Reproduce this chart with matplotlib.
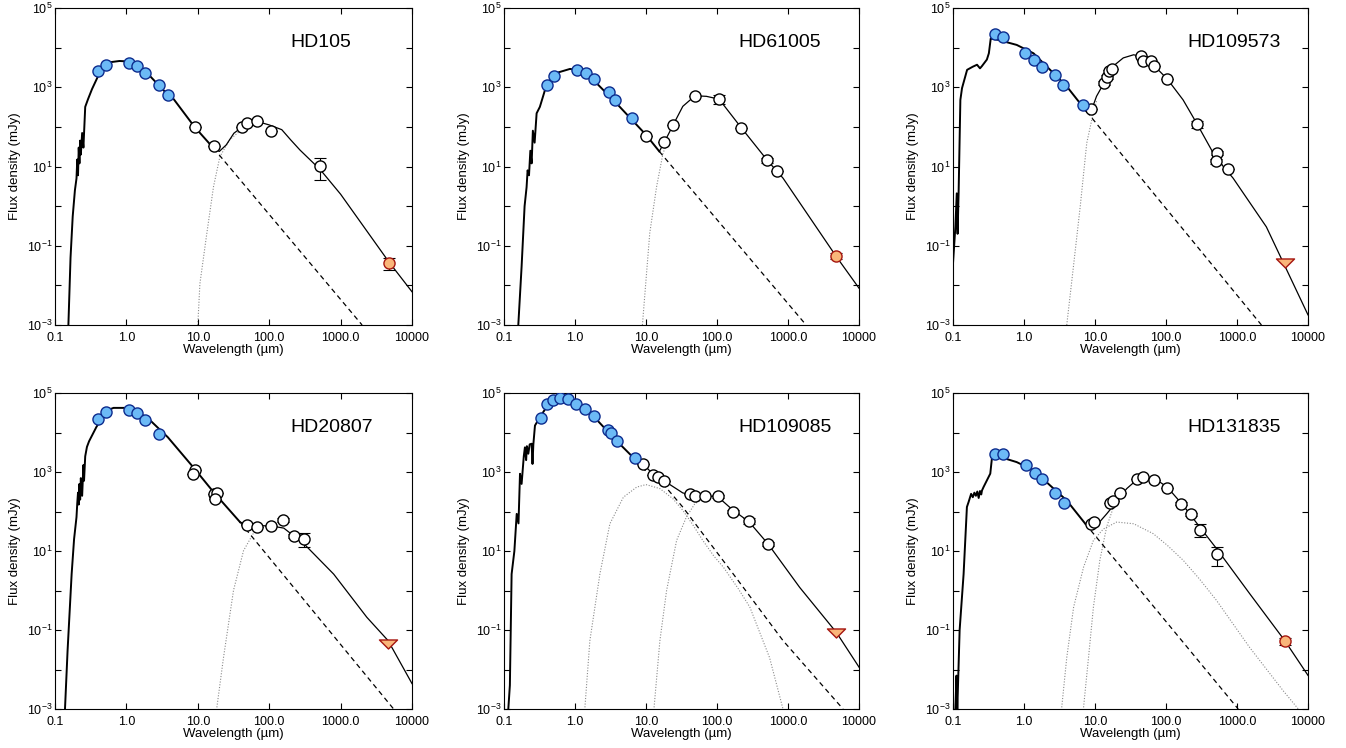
import math

import matplotlib
matplotlib.use("Agg")
import matplotlib.pyplot as plt
from matplotlib.path import Path
from matplotlib.ticker import FixedLocator, FuncFormatter, NullLocator

plt.rcParams["font.family"] = ["Liberation Sans", "DejaVu Sans"]
plt.rcParams["mathtext.default"] = "regular"

# ---------------- HD105 ----------------
hd105_star_wl = [0.154, 0.165, 0.177, 0.19, 0.20, 0.205, 0.21, 0.215, 0.22, 0.225, 0.23,
                 0.24, 0.25, 0.265, 0.29, 0.33, 0.38, 0.45, 0.6, 0.8, 1.0, 1.4, 1.9, 2.8,
                 3.8, 4.6, 9.0, 16.6, 2000]
hd105_star_flux = [1e-3, 0.05, 0.55, 2.5, 5, 15, 6, 30, 12, 45, 20, 70, 30, 320, 500, 900,
                   1550, 3000, 4300, 4600, 4500, 3500, 2400, 1150, 650, 500, 100, 29, 1e-3]
hd105_total_wl = [16.6, 20, 25, 32, 42, 55, 75, 100, 150, 200, 270, 520, 1000, 4700, 10000]
hd105_total_flux = [29, 24, 35, 69, 100, 125, 130, 112, 85, 47, 26, 8.3, 2.0, 0.04, 0.0069]
hd105_dust_wl = [10, 10.7, 13.4, 16.6, 20.4, 27.9, 38]
hd105_dust_flux = [1e-3, 0.011, 0.21, 3.1, 17.8, 47, 76]
hd105_phot_wl = [0.40, 0.51, 1.08, 1.43, 1.85, 2.84, 3.84]
hd105_phot_flux = [2500, 3700, 4100, 3400, 2300, 1120, 650]
hd105_ir_wl = [9.0, 16.6, 42, 48.6, 68, 107, 519]
hd105_ir_flux = [102, 33, 102, 124, 144, 80, 10.4]
hd105_ir_err = [0, 0, 0, 0, 0, 0, 5.8]
hd105_mm_wl = [4710]
hd105_mm_flux = [0.0376]
hd105_mm_err = [0.0125]

# ---------------- HD61005 ----------------
hd61005_star_wl = [0.159, 0.177, 0.195, 0.208, 0.215, 0.225, 0.235, 0.245, 0.255, 0.27,
                   0.288, 0.32, 0.355, 0.40, 0.55, 0.85, 1.05, 1.8, 3.8, 10, 15.4, 1720]
hd61005_star_flux = [1e-3, 0.03, 1, 3, 8, 6, 25, 12, 80, 40, 220, 320, 590, 1200, 2300,
                     2900, 2750, 1550, 400, 63, 24, 1.1e-3]
hd61005_total_wl = [15.4, 18, 24, 33, 49, 71, 107, 221, 513, 850, 4700, 10000]
hd61005_total_flux = [24, 40, 110, 330, 610, 590, 500, 94, 14.2, 5.1, 0.056, 0.0085]
hd61005_dust_wl = [8.9, 11.3, 14.1, 17.4, 20]
hd61005_dust_flux = [1e-3, 0.21, 3.1, 22, 40]
hd61005_phot_wl = [0.40, 0.51, 1.05, 1.41, 1.83, 2.97, 3.65, 6.27]
hd61005_phot_flux = [1150, 1950, 2700, 2300, 1660, 740, 470, 166]
hd61005_ir_wl = [10.1, 17.8, 23.9, 48.8, 107, 221, 513, 708]
hd61005_ir_flux = [60, 40.6, 110, 610, 505, 94, 14.2, 7.9]
hd61005_ir_err = [0, 0, 0, 0, 120, 0, 2, 0]
hd61005_mm_wl = [4700]
hd61005_mm_flux = [0.056]
hd61005_mm_err = [0.01]

# ---------------- HD109573 ----------------
hd109573_star_wl = [0.1, 0.108, 0.113, 0.116, 0.12, 0.127, 0.134, 0.158, 0.19, 0.218, 0.24,
                    0.255, 0.30, 0.32, 0.34, 0.415, 0.79, 1.36, 4.0, 7.6, 2210]
hd109573_star_flux = [0.036, 0.3, 2.1, 0.2, 2.2, 480, 950, 2750, 3300, 3700, 3000, 3400,
                      5000, 7200, 17000, 16000, 11700, 7200, 1050, 245, 1e-3]
hd109573_total_wl = [7.6, 9.0, 10.5, 13.4, 18, 25, 35, 44.5, 66, 104, 174, 275, 500, 880,
                     2590, 10000]
hd109573_total_flux = [245, 275, 590, 1290, 3400, 5500, 6600, 6000, 3700, 1620, 480, 117,
                       17, 5.1, 0.3, 0.0018]
hd109573_dust_wl = [4.0, 4.97, 6.2, 7.65, 9.0, 10.6]
hd109573_dust_flux = [1e-3, 0.03, 1.0, 39, 150, 480]
hd109573_phot_wl = [0.39, 0.50, 1.04, 1.39, 1.82, 2.69, 3.6, 6.7]
hd109573_phot_flux = [22000, 19000, 7200, 4900, 3160, 2080, 1120, 365]
hd109573_ir_wl = [8.7, 13.4, 14.9, 15.9, 17.4, 44.5, 47.9, 60.7, 67.4, 104, 275, 515, 500, 750]
hd109573_ir_flux = [290, 1290, 1820, 2500, 2940, 6000, 4700, 4700, 3400, 1620, 117, 22,
                    13.5, 8.5]
hd109573_ir_err = [0, 150, 200, 250, 0, 0, 0, 0, 0, 0, 25, 3, 2, 0]
hd109573_mm_wl = [4700]
hd109573_mm_flux = [0.036]
hd109573_mm_err = [0]

# ---------------- HD20807 ----------------
hd20807_star_wl = [0.138, 0.15, 0.171, 0.185, 0.20, 0.205, 0.21, 0.215, 0.22, 0.225, 0.23,
                   0.24, 0.25, 0.255, 0.265, 0.28, 0.30, 0.38, 0.53, 0.66, 1.0, 1.93, 3.8,
                   8.7, 16.6, 39, 5530]
hd20807_star_flux = [1e-3, 0.03, 2.6, 20, 72, 160, 300, 150, 500, 200, 700, 250, 1500, 600,
                     2500, 4300, 6000, 13800, 36000, 42000, 42000, 24500, 7600, 1300, 310,
                     54, 1e-3]
hd20807_total_wl = [39, 48, 68, 107, 160, 309, 800, 2330, 4620, 10000]
hd20807_total_flux = [54, 48, 44, 43, 38, 15, 2.6, 0.21, 0.054, 0.0044]
hd20807_dust_wl = [18.5, 22.9, 31.6, 43.7, 60, 80]
hd20807_dust_flux = [1.1e-3, 0.02, 1.0, 10.2, 28, 34]
hd20807_phot_wl = [0.40, 0.51, 1.08, 1.43, 1.85, 2.9]
hd20807_phot_flux = [21500, 33000, 38000, 31000, 21000, 9400]
hd20807_ir_wl = [9.2, 8.7, 16.6, 18.5, 17.5, 48.6, 68.5, 107, 158, 219, 309]
hd20807_ir_flux = [1150, 910, 280, 296, 210, 45, 40, 42.5, 62, 24.5, 20.4]
hd20807_ir_err = [0, 0, 0, 0, 0, 0, 0, 0, 8, 3, 7.5]
hd20807_mm_wl = [4620]
hd20807_mm_flux = [0.043]
hd20807_mm_err = [0]

# ---------------- HD109085 ----------------
hd109085_star_wl = [0.115, 0.121, 0.128, 0.14, 0.151, 0.16, 0.168, 0.177, 0.19, 0.197,
                    0.205, 0.21, 0.22, 0.23, 0.245, 0.252, 0.259, 0.273, 0.321, 0.4, 0.61,
                    0.85, 1.6, 3.8, 7.3, 10.2, 17.4, 33, 63, 170, 850, 5960]
hd109085_star_flux = [1e-3, 0.004, 2.6, 10, 87, 50, 900, 500, 2500, 4200, 2000, 4500, 2900,
                      5000, 5200, 1600, 5000, 15000, 24500, 45000, 65000, 65000, 33000, 6300,
                      1950, 1000, 500, 129, 27.5, 2.6, 0.054, 1e-3]
hd109085_total_wl = [7.3, 9.0, 12.5, 17.8, 21.7, 33, 41, 48.7, 67, 103, 166, 282, 525, 1460,
                     4800, 10000]
hd109085_total_flux = [1950, 1600, 900, 600, 480, 295, 270, 255, 250, 235, 110, 55, 15, 1.2,
                       0.087, 0.0115]
hd109085_warm_wl = [1.38, 1.62, 2.24, 3.1, 4.8, 7.4, 10, 15.7, 24, 33, 45, 63, 90, 123, 200,
                    290, 550, 850]
hd109085_warm_flux = [1.1e-3, 0.054, 2.6, 49, 230, 415, 480, 380, 210, 107, 48, 18.6, 7.5,
                      3.9, 1.1, 0.38, 0.02, 1e-3]
hd109085_cold_wl = [13, 15.7, 19.5, 27, 37, 49, 63]
hd109085_cold_flux = [1.1e-3, 0.054, 1.0, 18.6, 72, 160, 200]
hd109085_phot_wl = [0.33, 0.40, 0.49, 0.61, 0.79, 1.03, 1.39, 1.83, 2.94, 3.17, 3.85, 6.97]
hd109085_phot_flux = [23700, 54000, 68000, 76000, 70000, 54000, 39000, 25700, 11800, 9700,
                      6000, 2300]
hd109085_ir_wl = [9.0, 12.5, 14.7, 17.8, 41.4, 48.7, 67, 103, 166, 282, 525]
hd109085_ir_flux = [1620, 850, 760, 575, 270, 240, 250, 240, 100, 58, 15.2]
hd109085_ir_err = [0, 0, 0, 0, 0, 0, 0, 20, 10, 10, 2]
hd109085_mm_wl = [4800]
hd109085_mm_flux = [0.085]
hd109085_mm_err = [0]

# ---------------- HD131835 ----------------
hd131835_star_wl = [0.108, 0.112, 0.115, 0.124, 0.141, 0.157, 0.166, 0.18, 0.19, 0.2, 0.21,
                    0.22, 0.23, 0.24, 0.25, 0.256, 0.27, 0.335, 0.353, 0.46, 0.79, 1.36, 4.0,
                    7.3, 1040]
hd131835_star_flux = [1e-3, 0.007, 1e-3, 0.1, 2.6, 130, 175, 280, 230, 300, 250, 320, 220,
                      330, 270, 340, 420, 910, 2200, 2400, 1780, 1100, 190, 49, 1e-3]
hd131835_total_wl = [7.3, 8.8, 10, 14.6, 18.2, 28, 38.6, 53, 74, 104, 175, 300, 515, 1510,
                     4700, 10000]
hd131835_total_flux = [49, 42, 40, 87, 141, 380, 630, 740, 630, 415, 142, 40, 11.5, 0.83,
                       0.054, 0.0071]
hd131835_warm_wl = [3.4, 4.0, 5.0, 6.9, 9.5, 13.1, 20.2, 35, 66, 104, 175, 300, 515, 1510,
                    4470, 7300]
hd131835_warm_flux = [1.1e-3, 0.02, 0.38, 3.9, 18.6, 36, 54, 49, 27.5, 14, 5.8, 1.9, 0.56,
                      0.036, 0.0029, 1e-3]
hd131835_cold_wl = [6.9, 8.1, 9.5, 11.7, 14.6, 18.2, 22.4]
hd131835_cold_flux = [1.1e-3, 0.02, 0.38, 5.8, 41, 129, 200]
hd131835_phot_wl = [0.39, 0.50, 1.05, 1.41, 1.82, 2.72, 3.63]
hd131835_phot_flux = [2800, 2800, 1490, 960, 650, 300, 166]
hd131835_ir_wl = [8.8, 9.7, 16.3, 18.2, 22.5, 39.6, 48, 67.6, 104, 162, 222, 306, 515]
hd131835_ir_flux = [49, 54, 163, 180, 296, 680, 750, 640, 390, 158, 85, 35, 8.5]
hd131835_ir_err = [0, 0, 0, 0, 0, 0, 0, 0, 0, 15, 8, 12, 4.3]
hd131835_mm_wl = [4700]
hd131835_mm_flux = [0.052]
hd131835_mm_err = [0.01]

panels = [
    dict(name="HD105", star=(hd105_star_wl, hd105_star_flux),
         total=(hd105_total_wl, hd105_total_flux),
         dust=[(hd105_dust_wl, hd105_dust_flux)],
         phot=(hd105_phot_wl, hd105_phot_flux),
         ir=(hd105_ir_wl, hd105_ir_flux, hd105_ir_err),
         mm=(hd105_mm_wl, hd105_mm_flux, hd105_mm_err), limit=False),
    dict(name="HD61005", star=(hd61005_star_wl, hd61005_star_flux),
         total=(hd61005_total_wl, hd61005_total_flux),
         dust=[(hd61005_dust_wl, hd61005_dust_flux)],
         phot=(hd61005_phot_wl, hd61005_phot_flux),
         ir=(hd61005_ir_wl, hd61005_ir_flux, hd61005_ir_err),
         mm=(hd61005_mm_wl, hd61005_mm_flux, hd61005_mm_err), limit=False),
    dict(name="HD109573", star=(hd109573_star_wl, hd109573_star_flux),
         total=(hd109573_total_wl, hd109573_total_flux),
         dust=[(hd109573_dust_wl, hd109573_dust_flux)],
         phot=(hd109573_phot_wl, hd109573_phot_flux),
         ir=(hd109573_ir_wl, hd109573_ir_flux, hd109573_ir_err),
         mm=(hd109573_mm_wl, hd109573_mm_flux, hd109573_mm_err), limit=True),
    dict(name="HD20807", star=(hd20807_star_wl, hd20807_star_flux),
         total=(hd20807_total_wl, hd20807_total_flux),
         dust=[(hd20807_dust_wl, hd20807_dust_flux)],
         phot=(hd20807_phot_wl, hd20807_phot_flux),
         ir=(hd20807_ir_wl, hd20807_ir_flux, hd20807_ir_err),
         mm=(hd20807_mm_wl, hd20807_mm_flux, hd20807_mm_err), limit=True),
    dict(name="HD109085", star=(hd109085_star_wl, hd109085_star_flux),
         total=(hd109085_total_wl, hd109085_total_flux),
         dust=[(hd109085_warm_wl, hd109085_warm_flux), (hd109085_cold_wl, hd109085_cold_flux)],
         phot=(hd109085_phot_wl, hd109085_phot_flux),
         ir=(hd109085_ir_wl, hd109085_ir_flux, hd109085_ir_err),
         mm=(hd109085_mm_wl, hd109085_mm_flux, hd109085_mm_err), limit=True),
    dict(name="HD131835", star=(hd131835_star_wl, hd131835_star_flux),
         total=(hd131835_total_wl, hd131835_total_flux),
         dust=[(hd131835_warm_wl, hd131835_warm_flux), (hd131835_cold_wl, hd131835_cold_flux)],
         phot=(hd131835_phot_wl, hd131835_phot_flux),
         ir=(hd131835_ir_wl, hd131835_ir_flux, hd131835_ir_err),
         mm=(hd131835_mm_wl, hd131835_mm_flux, hd131835_mm_err), limit=False),
]

x_ticks = [0.1, 1, 10, 100, 1000, 10000]
x_labels = ["0.1", "1.0", "10.0", "100.0", "1000.0", "10000"]
y_ticks = [1e-3, 1e-2, 1e-1, 1, 10, 100, 1e3, 1e4, 1e5]

# flat, wide down-pointing triangle for upper limits
tri = Path([(-1, 0.5), (1, 0.5), (0, -0.5), (-1, 0.5)],
           [Path.MOVETO, Path.LINETO, Path.LINETO, Path.CLOSEPOLY])

W, H = 1346, 748
col_left = [55, 504, 953]
col_width = [357, 355, 355]
row_top = [8, 393]
row_height = [317, 316]

BLUE, BLUE_EDGE = "#6cbaf6", "#0d2c8e"
ORANGE, ORANGE_EDGE = "#f9b67a", "#a5150f"
MS = 8


def ylab(v, pos):
    e = int(round(math.log10(v)))
    return f"$10^{{{e}}}$" if e % 2 else ""


fig = plt.figure(figsize=(W / 100, H / 100), dpi=100)

for i, p in enumerate(panels):
    r, c = divmod(i, 3)
    ax = fig.add_axes([col_left[c] / W, 1 - (row_top[r] + row_height[r]) / H,
                       col_width[c] / W, row_height[r] / H])
    ax.set_xscale("log")
    ax.set_yscale("log")

    # stellar photosphere: solid where it dominates, dashed beyond the excess
    sw, sf = p["star"]
    tw, tf = p["total"]
    cut = tw[0]
    solid = [(w, f) for w, f in zip(sw, sf) if w <= cut]
    dash = [(w, f) for w, f in zip(sw, sf) if w >= cut]
    ax.plot(*zip(*solid), color="black", lw=1.4, zorder=2)
    ax.plot(*zip(*dash), color="black", lw=0.9, ls=(0, (4, 3)), zorder=2)
    for dw, df in p["dust"]:
        ax.plot(dw, df, color="#8a8a8a", lw=0.8, ls=(0, (1, 1.5)), zorder=1)
    ax.plot(tw, tf, color="black", lw=0.9, zorder=2)

    bw, bf = p["phot"]
    ax.plot(bw, bf, "o", ms=MS, mfc=BLUE, mec=BLUE_EDGE, mew=1.0, zorder=5)

    iw, iflux, ierr = p["ir"]
    ax.errorbar(iw, iflux, yerr=ierr, fmt="none", ecolor="black", elinewidth=0.8,
                capsize=4.5, capthick=0.8, zorder=3)
    ax.plot(iw, iflux, "o", ms=MS, mfc="white", mec="black", mew=1.0, zorder=4)

    mw, mf, me = p["mm"]
    if p["limit"]:
        ax.plot(mw, mf, marker=tri, ls="none", ms=13, mfc=ORANGE, mec=ORANGE_EDGE,
                mew=1.0, zorder=5)
    else:
        ax.errorbar(mw, mf, yerr=me, fmt="none", ecolor="black", elinewidth=0.8,
                    capsize=4.5, capthick=0.8, zorder=3)
        ax.plot(mw, mf, "o", ms=MS, mfc=ORANGE, mec=ORANGE_EDGE, mew=1.0, zorder=5)

    ax.set_xlim(0.1, 10000)
    ax.set_ylim(1e-3, 1e5)
    ax.xaxis.set_major_locator(FixedLocator(x_ticks))
    ax.set_xticklabels(x_labels)
    ax.xaxis.set_minor_locator(NullLocator())
    ax.yaxis.set_major_locator(FixedLocator(y_ticks))
    ax.yaxis.set_major_formatter(FuncFormatter(ylab))
    ax.yaxis.set_minor_locator(NullLocator())
    ax.tick_params(which="both", direction="in", top=True, right=True, length=4,
                   width=0.8, labelsize=9)
    ax.tick_params(axis="x", pad=5)
    ax.tick_params(axis="y", pad=2)
    for s in ax.spines.values():
        s.set_linewidth(0.8)

    ax.set_xlabel("Wavelength (µm)", fontsize=9.5, labelpad=0)
    ax.set_ylabel("Flux density (mJy)", fontsize=9.5, labelpad=4)
    ax.text(0.66, 0.89, p["name"], transform=ax.transAxes, fontsize=14,
            ha="left", va="center")

fig.savefig("out.png", dpi=100)
